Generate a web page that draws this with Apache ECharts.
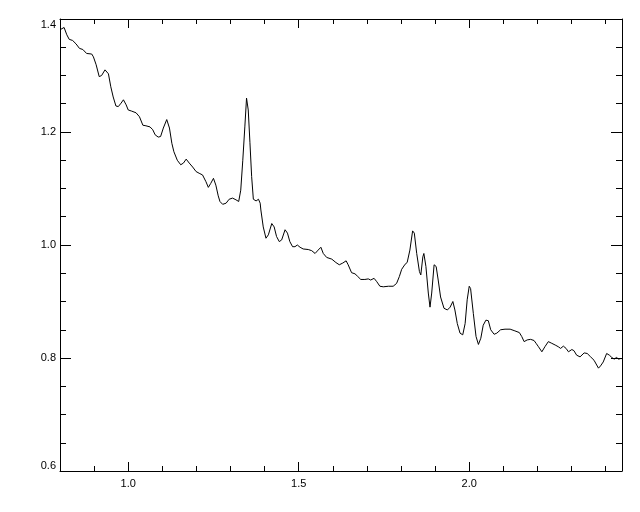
<!DOCTYPE html>
<html><head><meta charset="utf-8">
<script src="https://cdn.jsdelivr.net/npm/echarts@6/dist/echarts.min.js"></script>
<style>html,body{margin:0;padding:0;background:#fff}#c{width:640px;height:512px}</style>
</head><body><div id="c"></div><script>
const wavelength = [
0.800,0.812,0.820,0.827,0.837,0.847,0.857,0.867,0.878,0.893,
0.898,0.906,0.915,0.922,0.932,0.942,0.949,0.956,0.964,0.971,
0.979,0.986,0.994,1.000,1.010,1.023,1.033,1.043,1.052,1.064,
1.072,1.079,1.088,1.095,1.103,1.113,1.121,1.128,1.134,1.144,
1.154,1.162,1.170,1.179,1.189,1.199,1.208,1.218,1.228,1.235,
1.242,1.250,1.257,1.264,1.269,1.277,1.287,1.296,1.306,1.316,
1.324,1.330,1.336,1.342,1.347,1.352,1.357,1.362,1.367,1.375,
1.382,1.387,1.389,1.396,1.404,1.411,1.421,1.428,1.435,1.443,
1.450,1.460,1.467,1.474,1.482,1.489,1.496,1.504,1.513,1.528,
1.538,1.548,1.557,1.565,1.572,1.582,1.597,1.609,1.619,1.629,
1.639,1.645,1.655,1.665,1.672,1.682,1.694,1.704,1.711,1.721,
1.729,1.738,1.748,1.763,1.777,1.787,1.795,1.802,1.812,1.818,
1.826,1.834,1.839,1.846,1.854,1.858,1.864,1.867,1.873,1.880,
1.885,1.890,1.897,1.903,1.909,1.916,1.926,1.936,1.944,1.952,
1.958,1.965,1.973,1.981,1.988,1.994,2.000,2.004,2.012,2.020,
2.027,2.034,2.041,2.049,2.056,2.063,2.073,2.081,2.092,2.105,
2.120,2.134,2.147,2.154,2.161,2.170,2.180,2.190,2.196,2.203,
2.213,2.222,2.232,2.242,2.252,2.261,2.268,2.276,2.284,2.291,
2.301,2.307,2.315,2.325,2.337,2.346,2.356,2.366,2.379,2.385,
2.393,2.403,2.411,2.418,2.425,2.432,2.438,2.444,2.448];
const flux = [
1.381,1.385,1.372,1.364,1.362,1.356,1.348,1.346,1.339,1.338,
1.333,1.319,1.298,1.300,1.310,1.303,1.280,1.262,1.246,1.245,
1.251,1.257,1.248,1.239,1.237,1.234,1.227,1.212,1.211,1.209,
1.204,1.195,1.191,1.192,1.207,1.222,1.207,1.180,1.165,1.150,
1.142,1.145,1.152,1.145,1.138,1.130,1.127,1.124,1.112,1.102,
1.109,1.118,1.106,1.087,1.077,1.072,1.074,1.081,1.083,1.080,
1.077,1.097,1.150,1.209,1.260,1.239,1.181,1.121,1.081,1.078,
1.081,1.074,1.062,1.032,1.012,1.018,1.038,1.032,1.015,1.006,
1.009,1.027,1.021,1.006,0.997,0.997,1.000,0.996,0.993,0.992,
0.990,0.985,0.991,0.996,0.985,0.978,0.975,0.969,0.965,0.968,
0.972,0.965,0.951,0.949,0.945,0.939,0.939,0.940,0.938,0.941,
0.935,0.927,0.926,0.927,0.927,0.932,0.944,0.957,0.966,0.969,
0.991,1.025,1.021,0.985,0.953,0.947,0.979,0.985,0.962,0.915,
0.890,0.915,0.965,0.962,0.938,0.908,0.888,0.885,0.890,0.900,
0.885,0.861,0.844,0.841,0.861,0.903,0.927,0.923,0.879,0.838,
0.824,0.835,0.858,0.867,0.866,0.850,0.842,0.844,0.850,0.851,
0.851,0.848,0.845,0.838,0.829,0.832,0.833,0.831,0.826,0.820,
0.811,0.820,0.829,0.826,0.823,0.820,0.817,0.821,0.817,0.811,
0.815,0.813,0.805,0.802,0.809,0.808,0.802,0.796,0.782,0.786,
0.793,0.808,0.805,0.801,0.798,0.801,0.798,0.799,0.799];

const xMajorTicks = [1.0, 1.5, 2.0];
const xMinorTicks = [0.9, 1.1, 1.2, 1.3, 1.4, 1.6, 1.7, 1.8, 1.9, 2.1, 2.2, 2.3, 2.4];
const yMajorTicks = [0.6, 0.8, 1.0, 1.2, 1.4];
const yMinorTicks = [0.65, 0.7, 0.75, 0.85, 0.9, 0.95, 1.05, 1.1, 1.15, 1.25, 1.3, 1.35];
const yMiddleLabels = [0.8, 1.0, 1.2];
const yBottomLabel = [0.6];
const yTopLabel = [1.4];

const X_MIN = 0.8, X_MAX = 2.448, Y_MIN = 0.6, Y_MAX = 1.4;
const FONT = 'Liberation Sans';

function lbl(values, extra) {
  if (!values) return { show: false };
  return Object.assign({ show: true, customValues: values, color: '#000', fontFamily: FONT, fontSize: 11,
    formatter: v => Number(v).toFixed(1) }, extra || {});
}
function xAx(pos, ticks, len, labels, lineShow, extra) {
  return { type: 'value', position: pos, min: X_MIN, max: X_MAX, silent: true,
    axisLine: { show: lineShow, onZero: false, lineStyle: { color: '#000', width: 1 } },
    axisTick: { show: true, inside: true, length: len, customValues: ticks, lineStyle: { color: '#000', width: 1 } },
    axisLabel: lbl(labels, extra), splitLine: { show: false } };
}
function yAx(pos, ticks, len, labels, lineShow, extra) {
  return { type: 'value', position: pos, min: Y_MIN, max: Y_MAX, silent: true,
    axisLine: { show: lineShow, onZero: false, lineStyle: { color: '#000', width: 1 } },
    axisTick: { show: ticks.length > 0, inside: true, length: len, customValues: ticks.length ? ticks : [Y_MIN], lineStyle: { color: '#000', width: 1 } },
    axisLabel: lbl(labels, extra), splitLine: { show: false } };
}

const chart = echarts.init(document.getElementById('c'), null, { renderer: 'canvas' });
chart.setOption({
  animation: false,
  backgroundColor: '#fff',
  grid: { left: 60, right: 18, top: 19, bottom: 41, containLabel: false },
  xAxis: [
    xAx('bottom', xMajorTicks, 9, xMajorTicks, true, { margin: 7 }),
    xAx('bottom', xMinorTicks, 5, null, false),
    xAx('top', xMajorTicks, 9, null, true),
    xAx('top', xMinorTicks, 5, null, false)
  ],
  yAxis: [
    yAx('left', yMajorTicks, 11, yMiddleLabels, true, { margin: 4 }),
    yAx('left', yMinorTicks, 6, null, false),
    yAx('left', [], 0, yBottomLabel, false, { margin: 4, verticalAlign: 'bottom' }),
    yAx('left', [], 0, yTopLabel, false, { margin: 4, verticalAlign: 'top' }),
    yAx('right', yMajorTicks, 11, null, true),
    yAx('right', yMinorTicks, 6, null, false)
  ],
  series: [{
    type: 'line', xAxisIndex: 0, yAxisIndex: 0, showSymbol: false, symbol: 'none',
    lineStyle: { color: '#000', width: 1 }, silent: true,
    data: wavelength.map((w, i) => [w, flux[i]])
  }]
});
</script></body></html>
